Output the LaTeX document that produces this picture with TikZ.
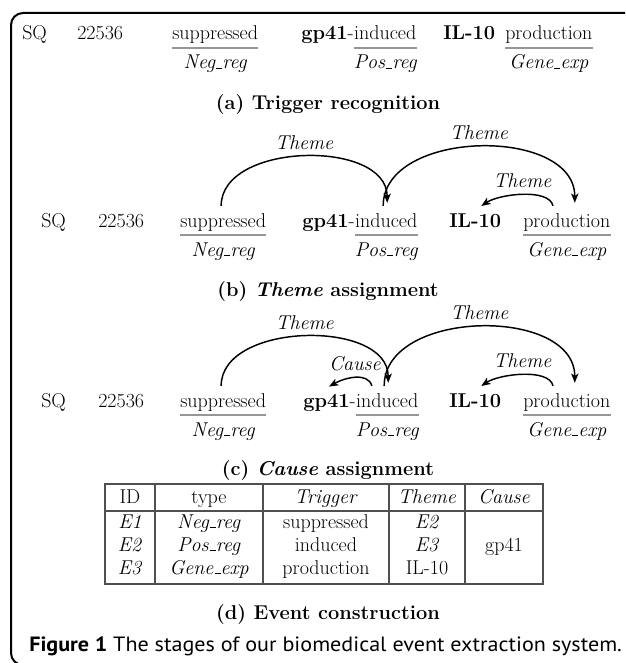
\documentclass[tikz,border=0pt]{standalone}
\usepackage{fontspec}
\newfontfamily\capfont[FakeStretch=1.07]{PT Sans}
\usetikzlibrary{calc,arrows.meta}
\newcommand{\usc}{\leavevmode\kern.06em\vbox{\hrule width .3em height .045em}}

\begin{document}
\begin{tikzpicture}[x=0.75pt,y=0.75pt,yscale=-1,xscale=1,
  every node/.style={font=\fontsize{15}{18}\selectfont},
  word/.style={inner sep=0pt,anchor=base west},
  tag/.style={inner sep=0pt,anchor=base,font=\fontsize{15}{18}\selectfont\itshape},
  uline/.style={color={rgb, 255:red, 150; green, 150; blue, 150 },line width=1.5pt},
  link/.style={line width=1.1pt,-{Stealth[length=7pt,width=5.5pt,inset=1.8pt]}},
  arclab/.style={inner sep=0pt,outer sep=5pt,anchor=south,font=\fontsize{15}{18}\selectfont\itshape},
  subcap/.style={inner sep=0pt,anchor=base,font=\fontsize{15}{18}\selectfont\bfseries},
  rule/.style={color={rgb, 255:red, 80; green, 80; blue, 80 },line width=0.9pt},
  cell/.style={inner sep=0pt,anchor=base},
  boxline/.style={line width=1.5pt,rounded corners=9}]
\clip (0,0) rectangle (625,663);

%Frame
\draw [boxline] (640,13) -- (11,13) -- (11,665) -- (60,665) ;

%Row (a) words
\node [word] (sq-a) at (22,40) {SQ};
\node [word] (num-a) at (77,40) {22536};
\node [word] (supp-a) at (172,40) {suppressed};
\node [word] (gp-a) at (301,40) {\textbf{gp41}-};
\node [word] (ind-a) at (gp-a.base east) {induced};
\node [word] (il-a) at (443,40) {\textbf{IL-10}};
\node [word] (prod-a) at (505,40) {production};
%Row (a) underlines
\draw [uline] ($(supp-a.base west)+(0,8)$) -- ($(supp-a.base east)+(0,8)$) ;
\draw [uline] ($(ind-a.base west)+(0,8)$) -- ($(ind-a.base east)+(0,8)$) ;
\draw [uline] ($(prod-a.base west)+(0,8)$) -- ($(prod-a.base east)+(0,8)$) ;
%Row (a) types
\node [tag] (neg-a) at ($(supp-a.base)+(0,29)$) {Neg\usc reg};
\node [tag] (pos-a) at ($(ind-a.base)+(0,29)$) {Pos\usc reg};
\node [tag] (gene-a) at ($(prod-a.base)+(0,29)$) {Gene\usc exp};
% Text Node
\node [subcap] (cap-a) at (328,110) {(a) Trigger recognition};

%Row (b) words
\node [word] (sq-b) at (41,227) {SQ};
\node [word] (num-b) at (98,227) {22536};
\node [word] (supp-b) at (180,227) {suppressed};
\node [word] (gp-b) at (302,227) {\textbf{gp41}-};
\node [word] (ind-b) at (gp-b.base east) {induced};
\node [word] (il-b) at (449,227) {\textbf{IL-10}};
\node [word] (prod-b) at (523,227) {production};
%Row (b) underlines
\draw [uline] ($(supp-b.base west)+(0,8)$) -- ($(supp-b.base east)+(0,8)$) ;
\draw [uline] ($(ind-b.base west)+(0,8)$) -- ($(ind-b.base east)+(0,8)$) ;
\draw [uline] ($(prod-b.base west)+(0,8)$) -- ($(prod-b.base east)+(0,8)$) ;
%Row (b) types
\node [tag] (neg-b) at ($(supp-b.base)+(0,29)$) {Neg\usc reg};
\node [tag] (pos-b) at ($(ind-b.base)+(0,29)$) {Pos\usc reg};
\node [tag] (gene-b) at ($(prod-b.base)+(0,29)$) {Gene\usc exp};
%Row (b) Theme arcs
\draw [link] ($(supp-b.north)+(-2,-7)$) .. controls +(0,-64) and +(0,-64) .. ($(ind-b.north)+(1,-10)$) node [arclab,midway] (th1-b) {Theme} ;
\draw [link] ($(ind-b.north)+(-3,-7)$) .. controls +(0,-77) and +(0,-77) .. ($(prod-b.north)+(8,-10)$) node [arclab,midway] (th2-b) {Theme} ;
\draw [link] ($(prod-b.north west)+(30,-7)$) .. controls +(-4,-18) and +(18,-12) .. ($(il-b.north)+(6,-7)$) node [arclab,midway] (th3-b) {Theme} ;
% Text Node
\node [subcap] (cap-b) at (328,296) {(b) \textit{Theme} assignment};

%Row (c) words
\node [word] (sq-c) at (41,407) {SQ};
\node [word] (num-c) at (98,407) {22536};
\node [word] (supp-c) at (180,407) {suppressed};
\node [word] (gp-c) at (303,407) {\textbf{gp41}-};
\node [word] (ind-c) at (gp-c.base east) {induced};
\node [word] (il-c) at (449,407) {\textbf{IL-10}};
\node [word] (prod-c) at (523,407) {production};
%Row (c) underlines
\draw [uline] ($(supp-c.base west)+(0,8)$) -- ($(supp-c.base east)+(0,8)$) ;
\draw [uline] ($(ind-c.base west)+(0,8)$) -- ($(ind-c.base east)+(0,8)$) ;
\draw [uline] ($(prod-c.base west)+(0,8)$) -- ($(prod-c.base east)+(0,8)$) ;
%Row (c) types
\node [tag] (neg-c) at ($(supp-c.base)+(0,29)$) {Neg\usc reg};
\node [tag] (pos-c) at ($(ind-c.base)+(0,29)$) {Pos\usc reg};
\node [tag] (gene-c) at ($(prod-c.base)+(0,29)$) {Gene\usc exp};
%Row (c) Theme and Cause arcs
\draw [link] ($(supp-c.north)+(-2,-7)$) .. controls +(0,-64) and +(0,-64) .. ($(ind-c.north)+(1,-10)$) node [arclab,midway] (th1-c) {Theme} ;
\draw [link] ($(ind-c.north)+(-3,-7)$) .. controls +(0,-77) and +(0,-77) .. ($(prod-c.north)+(8,-10)$) node [arclab,midway] (th2-c) {Theme} ;
\draw [link] ($(prod-c.north west)+(30,-7)$) .. controls +(-4,-18) and +(18,-12) .. ($(il-c.north)+(6,-7)$) node [arclab,midway] (th3-c) {Theme} ;
\draw [link] ($(ind-c.north west)+(16,-7)$) .. controls +(-4,-14) and +(16,-9) .. ($(gp-c.north west)+(26,-7)$) node [arclab,midway] (cause-c) {Cause} ;
% Text Node
\node [subcap] (cap-c) at (328,475) {(c) \textit{Cause} assignment};

%Event table
\draw [rule] (105,484) rectangle (543,584) ;
\draw [rule] (105,511) -- (543,511) ;
\draw [rule] (155,484) -- (155,584) ;
\draw [rule] (263,484) -- (263,584) ;
\draw [rule] (389,484) -- (389,584) ;
\draw [rule] (465,484) -- (465,584) ;
\node [cell] (h-id) at (130,503) {ID};
\node [cell] (h-type) at (209,503) {type};
\node [cell] (h-trig) at (326,503) {\textit{Trigger}};
\node [cell] (h-theme) at (427,503) {\textit{Theme}};
\node [cell] (h-cause) at (504,503) {\textit{Cause}};
\node [cell] (e1-id) at (130,528) {\textit{E1}};
\node [cell] (e1-type) at (209,528) {\textit{Neg\usc reg}};
\node [cell] (e1-trig) at (326,528) {suppressed};
\node [cell] (e1-theme) at (427,528) {\textit{E2}};
\node [cell] (e2-id) at (130,551) {\textit{E2}};
\node [cell] (e2-type) at (209,551) {\textit{Pos\usc reg}};
\node [cell] (e2-trig) at (326,551) {induced};
\node [cell] (e2-theme) at (427,551) {\textit{E3}};
\node [cell] (e2-cause) at (504,551) {gp41};
\node [cell] (e3-id) at (130,574) {\textit{E3}};
\node [cell] (e3-type) at (209,574) {\textit{Gene\usc exp}};
\node [cell] (e3-trig) at (326,574) {production};
\node [cell] (e3-theme) at (427,574) {IL-10};
% Text Node
\node [subcap] (cap-d) at (328,619) {(d) Event construction};

% Figure caption
\node [anchor=base west,inner sep=0pt,font=\capfont\fontsize{15.5}{18}\selectfont] (fig-cap) at (29,651) {\textbf{Figure 1} The stages of our biomedical event extraction system.};

\end{tikzpicture}
\end{document}
